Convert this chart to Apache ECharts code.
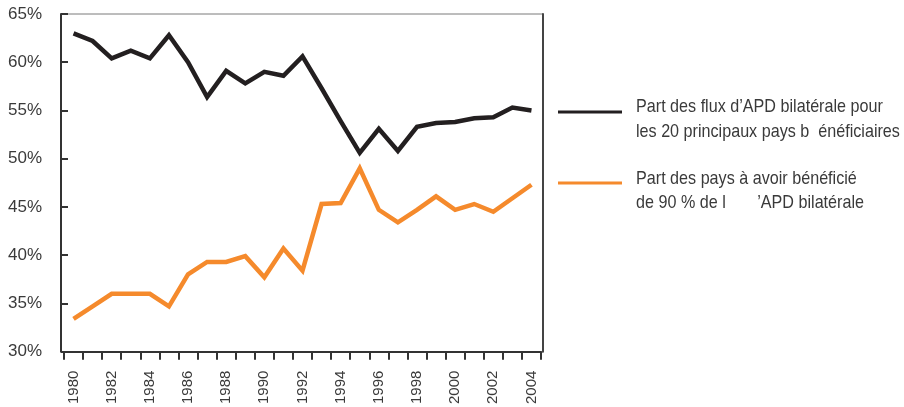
<!DOCTYPE html>
<html>
<head>
<meta charset="utf-8">
<script src="https://cdn.jsdelivr.net/npm/echarts@6/dist/echarts.min.js"></script>
<style>
html,body{margin:0;padding:0;background:#fff;}
#chart{width:904px;height:407px;}
</style>
</head>
<body>
<div id="chart"></div>
<script>
var years = ['1980','1981','1982','1983','1984','1985','1986','1987','1988','1989','1990','1991','1992','1993','1994','1995','1996','1997','1998','1999','2000','2001','2002','2003','2004'];
var shareTop20 = [63.0, 62.2, 60.4, 61.2, 60.4, 62.8, 60.0, 56.4, 59.1, 57.8, 59.0, 58.6, 60.6, 57.3, 53.9, 50.6, 53.1, 50.8, 53.3, 53.7, 53.8, 54.2, 54.3, 55.3, 55.0];
var share90 = [33.4, 34.7, 36.0, 36.0, 36.0, 34.7, 38.0, 39.3, 39.3, 39.9, 37.7, 40.7, 38.4, 45.3, 45.4, 49.0, 44.7, 43.4, 44.7, 46.1, 44.7, 45.3, 44.5, 45.9, 47.3];
var yMin = 30, yMax = 65, yStep = 5;
var legendTop20 = ['Part des flux d\u2019APD bilatérale pour', 'les 20 principaux pays b  énéficiaires'];
var legend90 = ['Part des pays à avoir bénéficié', 'de 90 % de l       \u2019APD bilatérale'];

var FONT = "'Liberation Sans', Arial, sans-serif";
var BLACK = '#231f20', ORANGE = '#f58a2c', TXT = '#3a3a3a';

var chart = echarts.init(document.getElementById('chart'), null, {renderer: 'canvas'});
chart.setOption({
  animation: false,
  backgroundColor: '#fff',
  grid: [
    {left: 64, right: 363, top: 14, bottom: 55, show: false},
    {left: 61, right: 361, top: 14, bottom: 55, show: true, borderColor: '#7a7a7a', borderWidth: 1, backgroundColor: 'transparent', z: 0}
  ],
  xAxis: [
    {
      type: 'category', gridIndex: 0, data: years, boundaryGap: true,
      axisLine: {show: true, lineStyle: {color: '#333', width: 2}},
      axisTick: {show: true, interval: 0, length: 8, inside: false, lineStyle: {color: '#333', width: 2}},
      axisLabel: {interval: 1, rotate: 90, margin: 19, fontFamily: FONT, fontSize: 15, color: TXT},
      splitLine: {show: false}
    },
    {type: 'value', gridIndex: 1, show: false}
  ],
  yAxis: [
    {
      type: 'value', gridIndex: 0, min: yMin, max: yMax, interval: yStep, offset: 3,
      axisLine: {show: true, lineStyle: {color: '#333', width: 2}},
      axisTick: {show: true, inside: true, length: 7, lineStyle: {color: '#333', width: 2}},
      axisLabel: {formatter: '{value}%', margin: 19, fontFamily: FONT, fontSize: 17, color: TXT},
      splitLine: {show: false}
    },
    {
      type: 'value', gridIndex: 0, position: 'right', min: yMin, max: yMax, interval: yStep, offset: 2,
      axisLine: {show: true, lineStyle: {color: '#444', width: 2}},
      axisTick: {show: false}, axisLabel: {show: false}, splitLine: {show: false}
    },
    {type: 'value', gridIndex: 1, show: false}
  ],
  series: [
    {
      name: legendTop20.join(' '), type: 'line', xAxisIndex: 0, yAxisIndex: 0, data: shareTop20,
      showSymbol: false, symbol: 'none',
      lineStyle: {color: BLACK, width: 4.5, join: 'miter'}, z: 3
    },
    {
      name: legend90.join(' '), type: 'line', xAxisIndex: 0, yAxisIndex: 0, data: share90,
      showSymbol: false, symbol: 'none',
      lineStyle: {color: ORANGE, width: 4.5, join: 'miter'}, z: 3
    }
  ],
  graphic: [
    {type: 'line', shape: {x1: 558, y1: 112, x2: 622, y2: 112}, style: {stroke: BLACK, lineWidth: 3}},
    {type: 'text', x: 636, y: 94, scaleX: 0.85, style: {text: legendTop20.join('\n'), font: '19px ' + FONT, fill: TXT, lineHeight: 25}},
    {type: 'line', shape: {x1: 558, y1: 183, x2: 622, y2: 183}, style: {stroke: ORANGE, lineWidth: 3}},
    {type: 'text', x: 636, y: 167, scaleX: 0.85, style: {text: legend90.join('\n'), font: '19px ' + FONT, fill: TXT, lineHeight: 24}}
  ]
});
</script>
</body>
</html>
